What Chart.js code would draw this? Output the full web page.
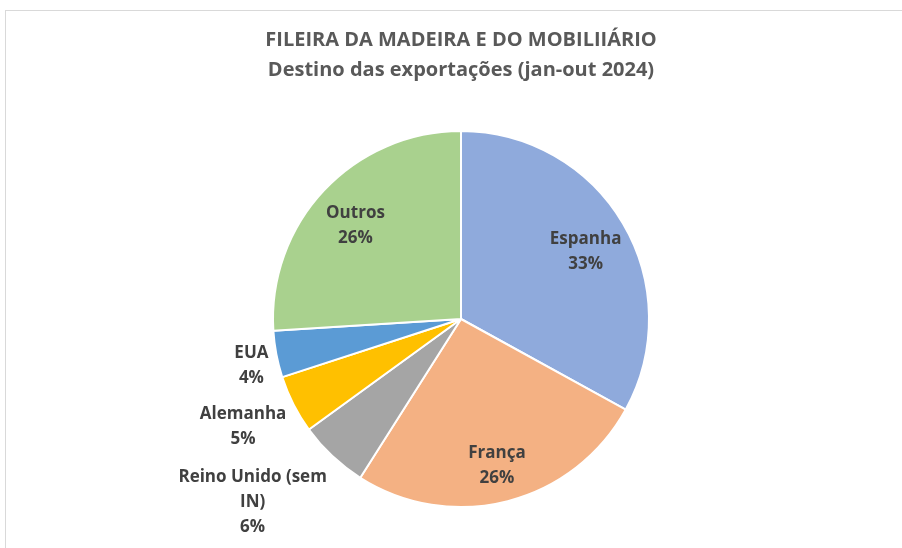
<!DOCTYPE html>
<html>
<head>
<meta charset="utf-8">
<script src="https://cdn.jsdelivr.net/npm/chart.js@4.4.1/dist/chart.umd.min.js"></script>
<style>
  html, body { margin: 0; padding: 0; background: #fff; }
  #wrap { position: relative; width: 902px; height: 548px; overflow: hidden; }
  #frame { position: absolute; left: 5px; top: 10px; width: 1000px; height: 1000px;
           border-left: 1px solid #d9d9d9; border-top: 1px solid #d9d9d9; }
  canvas { position: absolute; left: 0; top: 0; }
</style>
</head>
<body>
<div id="wrap">
  <div id="frame"></div>
  <canvas id="pie-chart" width="902" height="548"></canvas>
</div>
<script>
const titleLines = ["FILEIRA DA MADEIRA E DO MOBILIIÁRIO", "Destino das exportações (jan-out 2024)"];
const destinos = ["Espanha", "França", "Reino Unido (sem IN)", "Alemanha", "EUA", "Outros"];
const percentagens = [33, 26, 6, 5, 4, 26];
const cores = ["#8FAADC", "#F4B183", "#A5A5A5", "#FFC000", "#5B9BD5", "#A9D18E"];

const LABEL_SIZE = 17;
const LABEL_FONT = "bold " + LABEL_SIZE + "px 'Open Sans'";
const LINE_H = 25;
const GAP = 8;
const PAD = 5;

function wrapText(ctx, text, maxWidth) {
  const words = text.split(" ");
  const lines = [];
  let line = "";
  words.forEach((w) => {
    const test = line ? line + " " + w : w;
    if (line && ctx.measureText(test).width > maxWidth) {
      lines.push(line);
      line = w;
    } else {
      line = test;
    }
  });
  if (line) lines.push(line);
  return lines;
}

// outside label box: the near side faces the pie, sliding towards the corner as the slice points down/up
function outsideBox(p, dx, dy, r, w, h) {
  const ax = p.x + dx * r, ay = p.y + dy * r;
  const sx = dx < 0 ? -1 : 1, sy = dy < 0 ? -1 : 1;
  const cx = ax + sx * w / 2;
  const cy = ay + sy * Math.min(1, Math.abs(dy) * 1.4) * h / 2 + 3;
  return { cx, cy, w, h };
}

function overlaps(a, b) {
  return Math.abs(a.cx - b.cx) < (a.w + b.w) / 2 &&
         Math.abs(a.cy - b.cy) < (a.h + b.h) / 2 + 2 * PAD;
}

// category name + percentage, inside big slices, outside the small ones
const sliceLabels = {
  id: "sliceLabels",
  afterDatasetsDraw(chart) {
    const ctx = chart.ctx;
    const meta = chart.getDatasetMeta(0);
    ctx.save();
    ctx.font = LABEL_FONT;
    ctx.fillStyle = "#404040";
    ctx.textAlign = "center";
    ctx.textBaseline = "middle";

    const order = percentagens.map((v, i) => i).sort((a, b) => percentagens[a] - percentagens[b]);
    const placed = [];
    order.forEach((i) => {
      const arc = meta.data[i];
      const p = arc.getProps(["x", "y", "startAngle", "endAngle", "outerRadius"], true);
      const mid = (p.startAngle + p.endAngle) / 2;
      const dx = Math.cos(mid), dy = Math.sin(mid);
      const lines = wrapText(ctx, destinos[i], 170);
      lines.push(percentagens[i] + "%");
      const w = Math.max(...lines.map(l => ctx.measureText(l).width));
      const h = lines.length * LINE_H;
      let box;
      if (percentagens[i] >= 10) {
        const r = p.outerRadius * 0.77;
        box = { cx: p.x + dx * r, cy: p.y + dy * r + 6, w, h };
      } else {
        let r = p.outerRadius + GAP;
        box = outsideBox(p, dx, dy, r, w, h);
        while (placed.some(b => overlaps(b, box)) && r < p.outerRadius * 2) {
          r += 1;
          box = outsideBox(p, dx, dy, r, w, h);
        }
        placed.push(box);
      }
      lines.forEach((l, k) => {
        ctx.fillText(l, box.cx, box.cy + (k - (lines.length - 1) / 2) * LINE_H);
      });
    });
    ctx.restore();
  }
};

new Chart(document.getElementById("pie-chart"), {
  type: "pie",
  data: {
    labels: destinos,
    datasets: [{
      data: percentagens,
      backgroundColor: cores,
      borderColor: "#ffffff",
      borderWidth: 2
    }]
  },
  options: {
    responsive: false,
    animation: false,
    layout: { padding: { left: 20, right: 0, top: 0, bottom: 40 } },
    plugins: {
      legend: { display: false },
      tooltip: { enabled: false },
      title: {
        display: true,
        text: titleLines,
        color: "#595959",
        font: { family: "'Open Sans'", size: 20, weight: "bold", lineHeight: 1.5 },
        padding: { top: 25, bottom: 45 }
      }
    }
  },
  plugins: [sliceLabels]
});
</script>
</body>
</html>
